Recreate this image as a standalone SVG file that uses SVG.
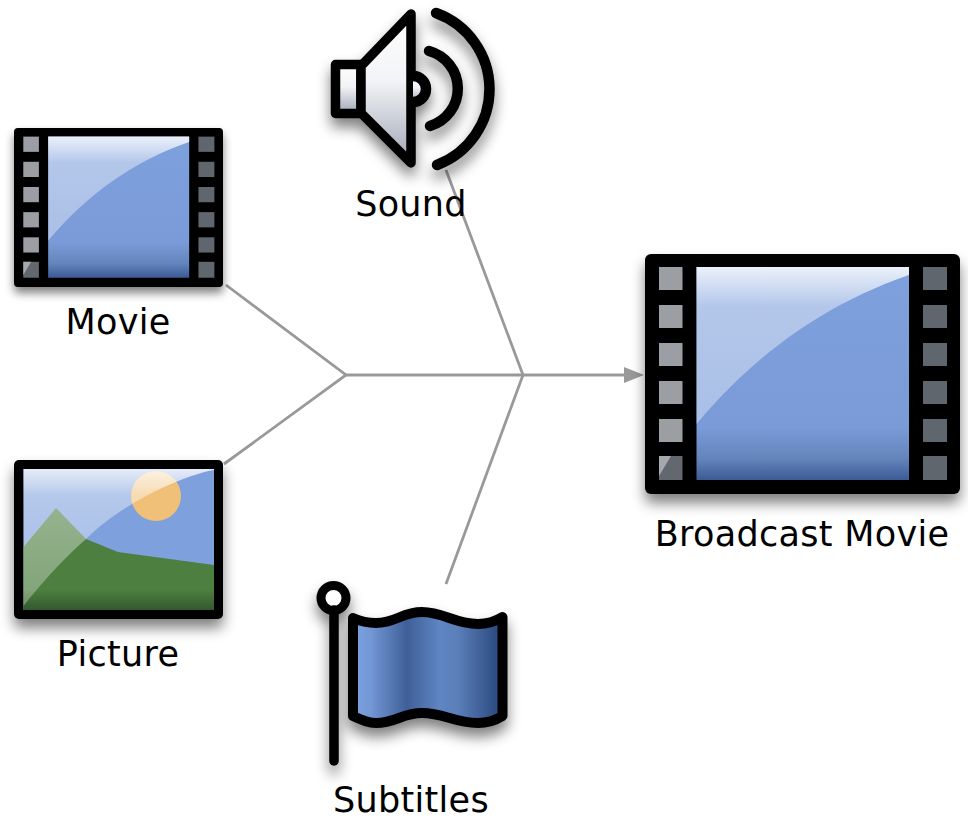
<svg xmlns="http://www.w3.org/2000/svg" xmlns:xlink="http://www.w3.org/1999/xlink" width="968" height="819" viewBox="0 0 968 819">
<style>
.lbl{font-family:"DejaVu Sans",sans-serif;font-size:35px;letter-spacing:.3px;fill:#000;text-anchor:middle}
.con{fill:none;stroke:#999;stroke-width:2.8}
.ink{fill:none;stroke:#000;stroke-width:10.5;stroke-linecap:round;stroke-linejoin:round}
</style>
<defs>
<filter id="sh" x="-15%" y="-15%" width="130%" height="135%"><feGaussianBlur in="SourceAlpha" stdDeviation="7"/><feOffset dy="9"/><feComponentTransfer><feFuncA type="linear" slope="0.5"/></feComponentTransfer><feMerge><feMergeNode/><feMergeNode in="SourceGraphic"/></feMerge></filter>
<linearGradient id="screen" x1="0" y1="0" x2="0" y2="1"><stop offset="0" stop-color="#7ea0dd"/><stop offset=".75" stop-color="#7a9bd8"/><stop offset=".9" stop-color="#6484bc"/><stop offset="1" stop-color="#3c5a94"/></linearGradient>
<linearGradient id="gloss" gradientUnits="userSpaceOnUse" x1="0" y1="13" x2="0" y2="170"><stop offset="0" stop-color="#fff" stop-opacity=".85"/><stop offset=".25" stop-color="#fff" stop-opacity=".42"/><stop offset="1" stop-color="#fff" stop-opacity=".36"/></linearGradient>
<linearGradient id="gloss2" x1="0" y1="0" x2="0" y2="1"><stop offset="0" stop-color="#fff" stop-opacity=".8"/><stop offset=".2" stop-color="#fff" stop-opacity=".42"/><stop offset="1" stop-color="#fff" stop-opacity=".28"/></linearGradient>
<linearGradient id="land" x1="0" y1="0" x2="0" y2="1"><stop offset="0" stop-color="#4e7f41"/><stop offset=".8" stop-color="#4e7f41"/><stop offset="1" stop-color="#33592c"/></linearGradient>
<linearGradient id="metal" x1="0" y1="0" x2="0" y2="1"><stop offset="0" stop-color="#fff"/><stop offset=".45" stop-color="#f2f3f6"/><stop offset="1" stop-color="#a0a6b4"/></linearGradient>
<linearGradient id="flagf" x1="0" y1="0" x2="1" y2="0"><stop offset="0" stop-color="#7ca2e2"/><stop offset=".12" stop-color="#7297d5"/><stop offset=".36" stop-color="#3f5f97"/><stop offset=".58" stop-color="#5f85c2"/><stop offset=".7" stop-color="#5a7fb9"/><stop offset=".95" stop-color="#2f4e85"/><stop offset="1" stop-color="#2f4e85"/></linearGradient>
<g id="film">
<rect x="0" y="0" width="315" height="240" rx="6" fill="#000"/>
<rect x="51.500" y="13" width="212.500" height="213" fill="url(#screen)"/>
<path d="M51.500 13H264V21C180 50 110 100 51.500 170Z" fill="url(#gloss)"/>
<g fill="#9b9ea3"><rect x="14" y="13" width="23.500" height="23"/><rect x="14" y="51" width="23.500" height="23"/><rect x="14" y="89" width="23.500" height="23"/><rect x="14" y="127" width="23.500" height="23"/><rect x="14" y="165" width="23.500" height="23"/></g>
<rect x="14" y="202" width="23.500" height="24" fill="#63676e"/>
<path d="M14 202H26L14 222Z" fill="#a5a8ac"/>
<g fill="#61666e"><rect x="278" y="13" width="24" height="23"/><rect x="278" y="51" width="24" height="23"/><rect x="278" y="89" width="24" height="23"/><rect x="278" y="127" width="24" height="23"/><rect x="278" y="165" width="24" height="23"/><rect x="278" y="202" width="24" height="24"/></g>
</g>
</defs>
<g id="connectors">
<path class="con" d="M226 285L346 375L224 464"/>
<path class="con" d="M346 375H626"/>
<path class="con" d="M446 170L523 375L446 584"/>
<path d="M624 367L644 375L624 383Z" fill="#999"/>
</g>
<g id="movie">
<use xlink:href="#film" href="#film" transform="translate(14 128) scale(.6635 .6625)" filter="url(#sh)"/>
<text class="lbl" x="118" y="334">Movie</text>
</g>
<g id="sound">
<g filter="url(#sh)">
<path d="M335.500 64.500H361V113.500H335.500Z" fill="url(#metal)" stroke="#000" stroke-width="9.500" stroke-linejoin="round"/>
<path d="M361 66L411 14V163L361 113Z" fill="url(#metal)" stroke="#000" stroke-width="9.500" stroke-linejoin="round"/>
<path d="M413 76A13 13 0 0 1 413 102Z" fill="url(#metal)"/>
<path class="ink" d="M413 76A13 13 0 0 1 413 102"/>
<path class="ink" d="M429 51A39 39 0 0 1 430 126"/>
<path class="ink" d="M436 13A81 81 0 0 1 437 165"/>
</g>
<text class="lbl" x="411" y="216">Sound</text>
</g>
<g id="picture">
<g filter="url(#sh)">
<rect x="14" y="460" width="209" height="159" rx="5" fill="#000"/>
<rect x="23.500" y="469" width="190.500" height="141" fill="#7ea0dd"/>
<circle cx="156" cy="496" r="25" fill="#f0c078"/>
<path d="M23.500 547L56 508L86 539L118 552L214 565V610H23.500Z" fill="url(#land)"/>
<path d="M23.500 469H214V470C180 476 120 505 86 539C60 562 40 585 23.500 606Z" fill="url(#gloss2)"/>
</g>
<text class="lbl" x="118" y="666">Picture</text>
</g>
<g id="subtitles">
<g filter="url(#sh)">
<circle cx="333.500" cy="598" r="12.500" fill="#fff" stroke="#000" stroke-width="9"/>
<path class="ink" d="M334 610V761" style="stroke-width:9.500"/>
<path d="M353 618C362 622 368 623 376 623C396 623 402 612 422 612C444 612 454 624 478 624C488 624 496 621 502.500 617V716C496 720 488 723 478 723C454 723 444 713 422 713C402 713 396 723 376 723C368 723 362 720 353 716Z" fill="url(#flagf)" stroke="#000" stroke-width="10" stroke-linejoin="round"/>
</g>
<text class="lbl" x="411" y="812">Subtitles</text>
</g>
<g id="broadcast-movie">
<use xlink:href="#film" href="#film" transform="translate(645 254)" filter="url(#sh)"/>
<text class="lbl" x="802" y="546">Broadcast Movie</text>
</g>
</svg>
